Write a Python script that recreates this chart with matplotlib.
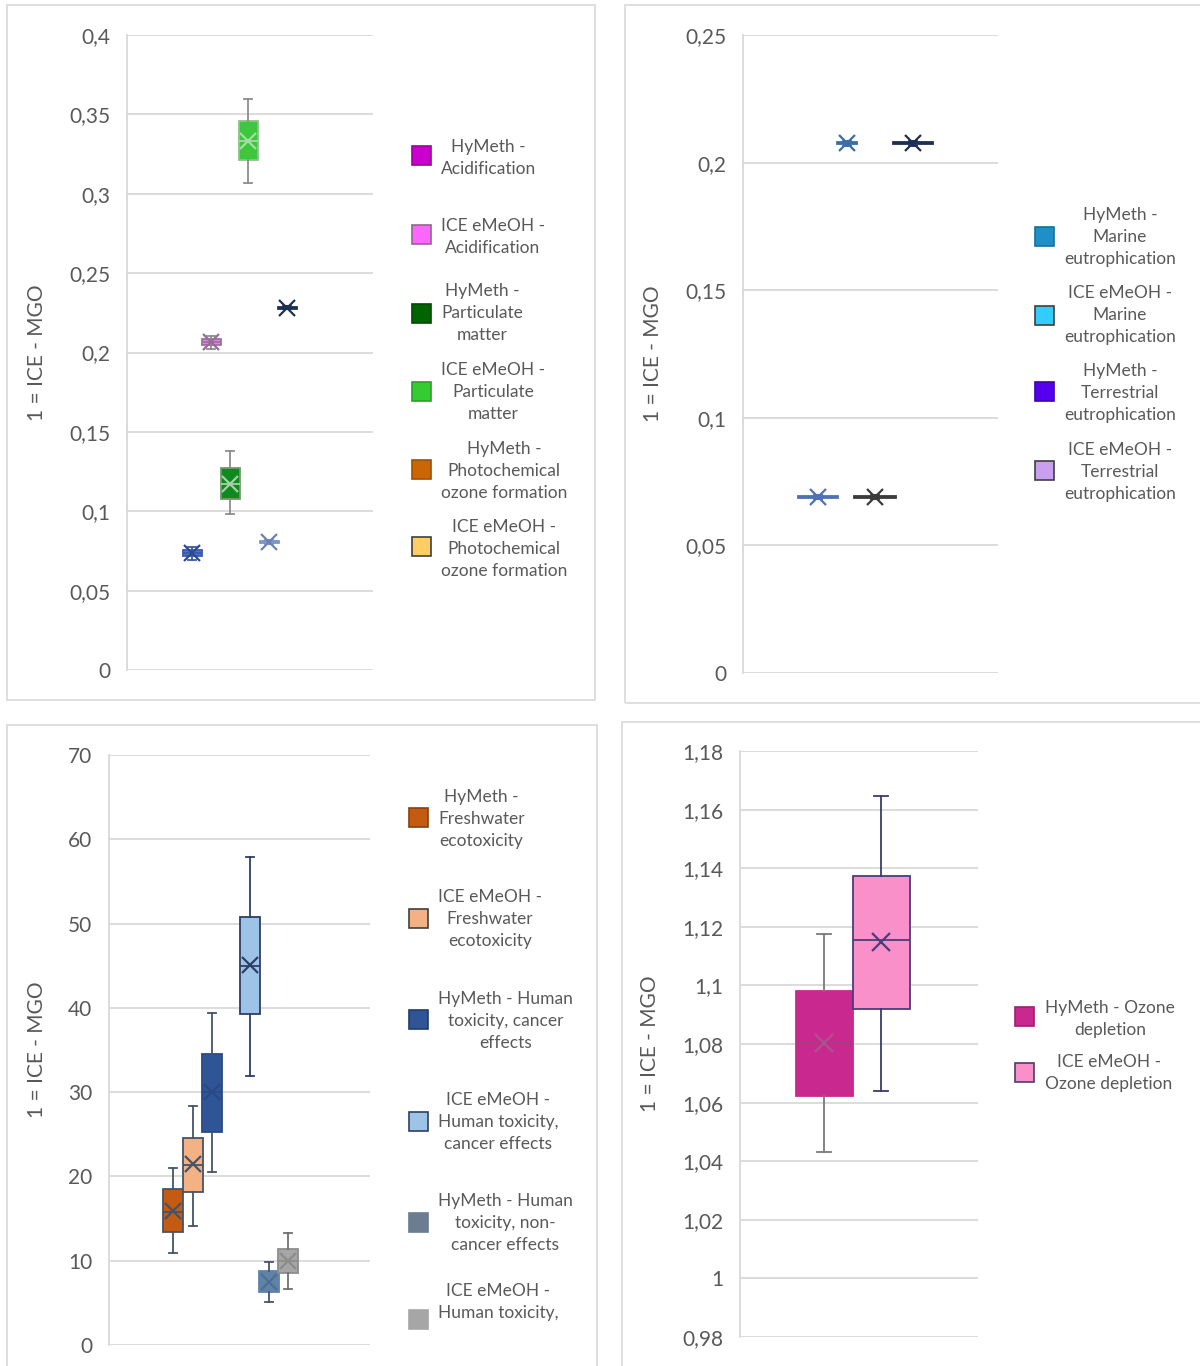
import matplotlib.pyplot as plt
from matplotlib.patches import Rectangle
from matplotlib.ticker import FuncFormatter, MultipleLocator

W, H = 1200, 1366
plt.rcParams['font.family'] = ['Lato', 'DejaVu Sans']
TEXT = '#595959'
GRID = '#d9d9d9'

# ---------- panel 1: acidification / particulate matter / ozone formation ----------
p1_labels = ["HyMeth -\nAcidification", "ICE eMeOH -\nAcidification",
             "HyMeth -\nParticulate\nmatter", "ICE eMeOH -\nParticulate\nmatter",
             "HyMeth -\nPhotochemical\nozone formation", "ICE eMeOH -\nPhotochemical\nozone formation"]
p1_med = [0.0735, 0.2065, 0.117, 0.333, 0.0806, 0.2282]
p1_mean = [0.0735, 0.2065, 0.117, 0.333, 0.0806, 0.2282]
p1_q1 = [0.0715, 0.2045, 0.1075, 0.3215, 0.0800, 0.2276]
p1_q3 = [0.0755, 0.2088, 0.127, 0.346, 0.0812, 0.2288]
p1_lo = [0.0695, 0.2025, 0.098, 0.307, 0.0796, 0.2272]
p1_hi = [0.0775, 0.2105, 0.1377, 0.3597, 0.0816, 0.2292]

# ---------- panel 2: eutrophication ----------
p2_labels = ["HyMeth -\nMarine\neutrophication", "ICE eMeOH -\nMarine\neutrophication",
             "HyMeth -\nTerrestrial\neutrophication", "ICE eMeOH -\nTerrestrial\neutrophication"]
p2_med = [0.069, 0.2075, 0.069, 0.2075]
p2_mean = [0.069, 0.2075, 0.069, 0.2075]
p2_q1 = [0.0686, 0.2071, 0.0686, 0.2071]
p2_q3 = [0.0694, 0.2079, 0.0694, 0.2079]
p2_lo = [0.0682, 0.2067, 0.0682, 0.2067]
p2_hi = [0.0698, 0.2083, 0.0698, 0.2083]

# ---------- panel 3: toxicity ----------
p3_labels = ["HyMeth -\nFreshwater\necotoxicity", "ICE eMeOH -\nFreshwater\necotoxicity",
             "HyMeth - Human\ntoxicity, cancer\neffects", "ICE eMeOH -\nHuman toxicity,\ncancer effects",
             "HyMeth - Human\ntoxicity, non-\ncancer effects", "ICE eMeOH -\nHuman toxicity,"]
p3_med = [15.8, 21.4, 30.0, 45.0, 7.5, 10.0]
p3_mean = [15.9, 21.5, 30.0, 45.1, 7.5, 10.0]
p3_q1 = [13.4, 18.2, 25.3, 39.3, 6.3, 8.5]
p3_q3 = [18.5, 24.6, 34.5, 50.8, 8.8, 11.4]
p3_lo = [10.9, 14.1, 20.5, 31.9, 5.1, 6.6]
p3_hi = [21.0, 28.4, 39.4, 57.9, 9.85, 13.3]

# ---------- panel 4: ozone depletion ----------
p4_labels = ["HyMeth - Ozone\ndepletion", "ICE eMeOH -\nOzone depletion"]
p4_med = [1.0805, 1.1154]
p4_mean = [1.0805, 1.1147]
p4_q1 = [1.0624, 1.0921]
p4_q3 = [1.0980, 1.1373]
p4_lo = [1.0432, 1.0638]
p4_hi = [1.1174, 1.1646]


def fig_rect(l, t, r, b):
    # pixel box -> figure fraction [left, bottom, width, height]
    return [l / W, 1 - b / H, (r - l) / W, (b - t) / H]


def comma_fmt(v, pos):
    return ('%.10g' % round(v, 4)).replace('.', ',')


def make_axes(fig, l, t, r, b, ylim, step, ylabel_x):
    ax = fig.add_axes(fig_rect(l, t, r, b))
    ax.set_xlim(0, r - l)
    ax.set_ylim(*ylim)
    ax.yaxis.set_major_locator(MultipleLocator(step))
    ax.yaxis.set_major_formatter(FuncFormatter(comma_fmt))
    ax.tick_params(axis='y', length=0, pad=12, labelsize=15, labelcolor=TEXT)
    ax.set_xticks([])
    for s in ['top', 'right', 'bottom']:
        ax.spines[s].set_visible(False)
    ax.spines['left'].set_color(GRID)
    ax.spines['left'].set_linewidth(1.3)
    ax.yaxis.grid(True, color=GRID, lw=1.3)
    ax.set_axisbelow(True)
    ax.patch.set_alpha(0)
    ax.set_ylabel("1 = ICE - MGO", fontsize=15, color=TEXT)
    ax.yaxis.set_label_coords((ylabel_x - l) / (r - l), 0.5)
    return ax


def draw_boxes(ax, med, mean, q1, q3, lo, hi, pos, widths, capw,
               faces, edges, whisk, xcol, msize, med_col=None):
    stats = [dict(med=m, mean=mn, q1=a, q3=b, whislo=c, whishi=d, fliers=[])
             for m, mn, a, b, c, d in zip(med, mean, q1, q3, lo, hi)]
    art = ax.bxp(stats, positions=pos, widths=widths, capwidths=capw,
                 patch_artist=True, showmeans=True, showfliers=False,
                 manage_ticks=False)
    for i, box in enumerate(art['boxes']):
        box.set_facecolor(faces[i])
        box.set_edgecolor(edges[i])
        box.set_linewidth(1.3)
        for ln in art['whiskers'][2 * i:2 * i + 2] + art['caps'][2 * i:2 * i + 2]:
            ln.set_color(whisk[i])
            ln.set_linewidth(1.3)
        mc = med_col[i] if med_col else edges[i]
        art['medians'][i].set_color(mc)
        art['medians'][i].set_linewidth(1.3)
        mk = art['means'][i]
        mk.set_marker('x')
        mk.set_markersize(msize)
        mk.set_markeredgewidth(1.6)
        mk.set_markeredgecolor(xcol[i])
        mk.set_markerfacecolor(xcol[i])
    return art


def draw_legend(fig, colors, edges, x_sq, ys, size=19):
    for c, e, y in zip(colors, edges, ys):
        fig.add_artist(Rectangle((x_sq / W, 1 - (y + size / 2) / H), size / W, size / H,
                                 transform=fig.transFigure, fc=c, ec=e, lw=1.2))


def draw_legend_text(fig, labels, x_txt, ys):
    for lab, y in zip(labels, ys):
        fig.text(x_txt / W, 1 - y / H, lab, ha='left', va='center',
                 multialignment='center', fontsize=12.5, color=TEXT, linespacing=1.45)


fig = plt.figure(figsize=(W / 100, H / 100), dpi=100)

# panel frames
for l, t, r, b in [(7, 5, 595, 700), (625, 5, 1205, 703), (7, 725, 597, 1375), (622, 722, 1205, 1375)]:
    fig.add_artist(Rectangle((l / W, 1 - b / H), (r - l) / W, (b - t) / H,
                             transform=fig.transFigure, fill=False, ec=GRID, lw=1.2))

# panel 1
ax1 = make_axes(fig, 127, 35, 373, 670, (0, 0.4), 0.05, 47)
draw_boxes(ax1, p1_med, p1_mean, p1_q1, p1_q3, p1_lo, p1_hi,
           pos=[65, 84, 103, 121, 142, 160], widths=19, capw=8,
           faces=['#4f72c4', '#d88ad8', '#0f8a1f', '#3dc73d', '#7d94c4', '#1e3152'],
           edges=['#3a5aa8', '#a070a0', '#6f9a6f', '#8fbf8f', '#7d94c4', '#1e3152'],
           whisk=['#3a5aa8', '#8c8c8c', '#8c8c8c', '#8c8c8c', '#7d94c4', '#1e3152'],
           xcol=['#2b4a90', '#9a6a9a', '#a8cfa8', '#a6dca6', '#6a82b8', '#1e3152'],
           msize=11,
           med_col=['#3a5aa8', '#a070a0', '#a8cfa8', '#a6dca6', '#7d94c4', '#1e3152'])
draw_legend(fig, ['#cc00cc', '#ff66ff', '#006400', '#33cc33', '#cc6600', '#ffcc66'],
            ['#a000a0', '#8c6a8c', '#004a00', '#2aa02a', '#a05000', '#3f3f3f'],
            412, [155, 234, 313, 391, 469, 547])
draw_legend_text(fig, p1_labels, 441, [158, 237, 313, 392, 471, 549])

# panel 2
ax2 = make_axes(fig, 743, 35, 998, 673, (0, 0.25), 0.05, 663)
draw_boxes(ax2, p2_med, p2_mean, p2_q1, p2_q3, p2_lo, p2_hi,
           pos=[75, 104, 132, 170], widths=[40, 20, 42, 40], capw=8,
           faces=['#4e72b5', '#3a6ea8', '#3b3b3b', '#1d2f55'],
           edges=['#4e72b5', '#3a6ea8', '#3b3b3b', '#1d2f55'],
           whisk=['#4e72b5', '#3a6ea8', '#3b3b3b', '#1d2f55'],
           xcol=['#4e72b5', '#3a6ea8', '#3b3b3b', '#1d2f55'],
           msize=11)
draw_legend(fig, ['#1f8fc8', '#33ccff', '#5500ee', '#c9a0f0'],
            ['#17709c', '#3f3f3f', '#3f00b0', '#3f3f3f'],
            1035, [236, 315, 392, 470])
draw_legend_text(fig, p2_labels, 1064, [237, 315, 393, 472])

# panel 3
ax3 = make_axes(fig, 109, 755, 370, 1345, (0, 70), 10, 47)
draw_boxes(ax3, p3_med, p3_mean, p3_q1, p3_q3, p3_lo, p3_hi,
           pos=[64, 84, 103, 141, 160, 179], widths=20, capw=8,
           faces=['#c55a11', '#f4b183', '#2f5597', '#9dc3e6', '#5f83a8', '#a6a6a6'],
           edges=['#44546a', '#44546a', '#2a4a85', '#2e3f66', '#5f83a8', '#8c8c8c'],
           whisk=['#44546a', '#44546a', '#44546a', '#2e3f66', '#44546a', '#6f6f6f'],
           xcol=['#44546a', '#44546a', '#2a4a85', '#2e3f66', '#4f6f92', '#8c8c8c'],
           msize=12)
draw_legend(fig, ['#c55a11', '#f4b183', '#2f5597', '#9dc3e6', '#6b7d8f', '#a6a6a6'],
            ['#8a3f0c', '#3f3f3f', '#203c6a', '#2e3f66', '#6b7d8f', '#a6a6a6'],
            409, [817, 918, 1019, 1121, 1222, 1319])
draw_legend_text(fig, p3_labels, 438, [819, 919, 1021, 1122, 1223, 1302])

# panel 4
ax4 = make_axes(fig, 740, 751, 978, 1337, (0.98, 1.18), 0.02, 660)
draw_boxes(ax4, p4_med, p4_mean, p4_q1, p4_q3, p4_lo, p4_hi,
           pos=[84, 141], widths=57, capw=14,
           faces=['#c9298f', '#f990c9'],
           edges=['#c9298f', '#4a3d7a'],
           whisk=['#7a7a7a', '#3c3c6e'],
           xcol=['#b0508f', '#4a3d7a'],
           msize=13,
           med_col=['#a0407f', '#4a3d7a'])
draw_legend(fig, ['#c9298f', '#f990c9'], ['#a01f70', '#4a3d6a'],
            1015, [1016, 1072])
draw_legend_text(fig, p4_labels, 1045, [1019, 1073])

fig.savefig('out.png', dpi=100, facecolor='white')
